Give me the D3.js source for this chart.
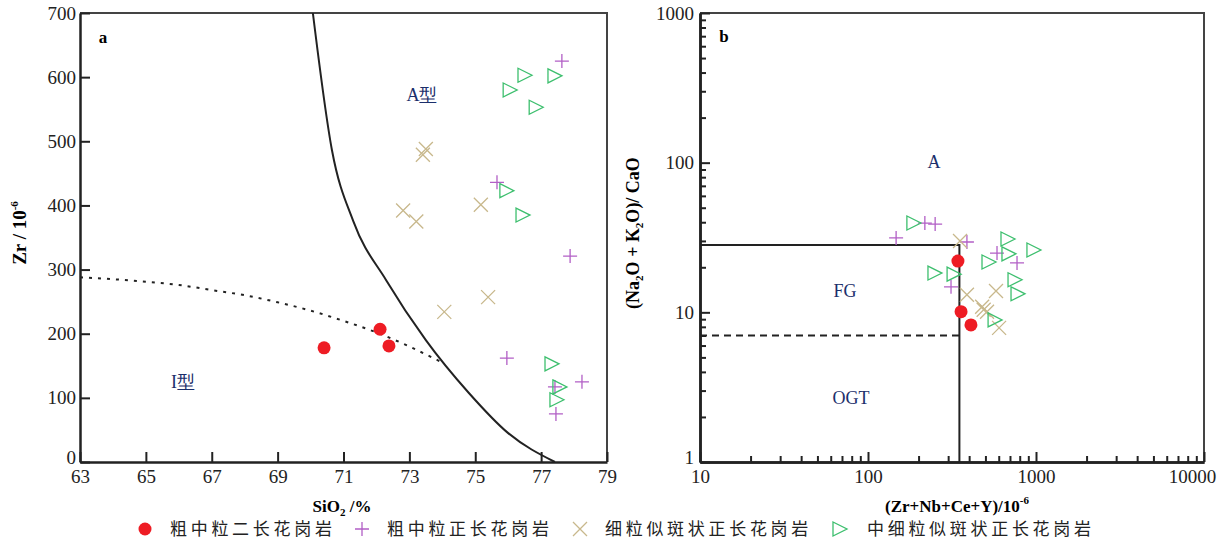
<!DOCTYPE html>
<html>
<head>
<meta charset="utf-8">
<script src="https://cdn.jsdelivr.net/npm/d3@7"></script>
<style>
  body { margin: 0; background: #fff; }
  svg { display: block; font-family: "Liberation Serif", "DejaVu Serif", serif; }
  .cn { font-family: "Noto Sans CJK SC", sans-serif; }
</style>
</head>
<body>
<svg id="chart" width="1228" height="543"></svg>
<script>
// panel a: SiO2 (%) vs Zr (ppm)
const aRed    = [[70.41,178],[72.11,207],[72.38,181]];
const aPurple = [[77.63,625],[75.66,436],[77.88,321],[75.96,162],[78.24,125],[77.42,117],[77.45,75]];
const aTan    = [[73.50,488],[73.41,479],[72.81,392],[73.21,375],[75.17,401],[75.39,257],[74.06,234]];
const aGreen  = [[76.48,603],[77.39,602],[76.03,580],[76.82,553],[75.93,423],[76.42,385],[77.30,153],[77.54,117],[77.45,97]];
const aSolid  = [[70.07,700],[70.65,486],[71.3,375],[72.3,283],[73.5,190],[74.8,108],[76.0,45],[77.42,0]];
const aDotted = [[63,288],[64,285],[65,281],[66,276],[67,268],[68,260],[69,249],[70,236],[71,220],[72,202],[73,180],[74,155]];
const aXTicks = [63,65,67,69,71,73,75,77,79];
const aYTicks = [0,100,200,300,400,500,600,700];

// panel b: (Zr+Nb+Ce+Y) vs (Na2O+K2O)/CaO
const bRed    = [[343,22.0],[358,10.1],[410,8.24]];
const bPurple = [[147,31.4],[218,39.5],[251,38.9],[388,29.5],[586,24.9],[771,21.4],[312,14.8]];
const bTan    = [[353,30.0],[388,13.1],[578,13.9],[478,10.9],[511,10.1],[488,10.4],[603,7.87]];
const bGreen  = [[185,39.5],[672,30.9],[959,26.1],[681,24.6],[518,21.7],[247,18.3],[321,18.0],[740,16.5],[771,13.3],[563,8.9]];
const bSolid  = [[10,28.2],[350,28.2],[350,1]];
const bDashed = [[10,7],[350,7]];
const bXTicks = [10,100,1000,10000];
const bYTicks = [1,10,100,1000];

const legendNames = ["粗中粒二长花岗岩","粗中粒正长花岗岩","细粒似斑状正长花岗岩","中细粒似斑状正长花岗岩"];

const colors = { red: "#ee1c24", purple: "#b25fc6", tan: "#c8b88c", green: "#3dbf6e", navy: "#1c2f6b" };

const svg = d3.select("#chart");

function drawMarker(sel, kind) {
  if (kind === "red") {
    sel.append("circle").attr("r", 6.5).attr("fill", colors.red);
  } else if (kind === "purple") {
    sel.append("path").attr("d", "M-7,0H7M0,-7V7").attr("stroke", colors.purple).attr("stroke-width", 1.3).attr("fill", "none");
  } else if (kind === "tan") {
    sel.append("path").attr("d", "M-7,-7L7,7M-7,7L7,-7").attr("stroke", colors.tan).attr("stroke-width", 1.3).attr("fill", "none");
  } else {
    sel.append("path").attr("d", "M-6,-7L8,0L-6,7Z").attr("stroke", colors.green).attr("stroke-width", 1.3).attr("fill", "none");
  }
}

function plotSeries(g, data, kind, x, y) {
  g.append("g").selectAll("g").data(data).join("g")
    .attr("transform", d => `translate(${x(d[0])},${y(d[1])})`)
    .each(function() { drawMarker(d3.select(this), kind); });
}

function frame(x, y) {
  const [x0, x1] = x.range(), [y0, y1] = y.range();
  svg.append("path")
    .attr("d", `M${x0},${y1}H${x1}V${y0}`)
    .attr("fill", "none").attr("stroke", "#444").attr("stroke-width", 2);
}

function styleAxis(g) {
  g.attr("font-family", "Liberation Serif").attr("font-size", 19);
  g.select(".domain").attr("stroke", "#222").attr("stroke-width", 2.5);
  g.selectAll(".tick line").attr("stroke", "#222").attr("stroke-width", 2);
  g.selectAll(".tick text")
    .attr("font-family", "Liberation Serif")
    .attr("font-size", 19)
    .attr("fill", "#222");
}

// ---------- panel a ----------
const xa = d3.scaleLinear([63, 79], [80, 607]);
const ya = d3.scaleLinear([0, 700], [462, 13]);
frame(xa, ya);

svg.append("g").attr("transform", `translate(0,${ya(0)})`)
  .call(d3.axisBottom(xa).tickValues(aXTicks).tickSize(-10).tickSizeOuter(0).tickPadding(8))
  .call(styleAxis);
svg.append("g").attr("transform", `translate(${xa(63)},0)`)
  .call(d3.axisLeft(ya).tickValues(aYTicks).tickSize(-10).tickSizeOuter(0).tickPadding(4))
  .call(styleAxis)
  .call(g => g.selectAll(".tick text").filter(d => d === 0).attr("dy", "0.1em"));

svg.append("path").attr("d", d3.line().x(d => xa(d[0])).y(d => ya(d[1])).curve(d3.curveMonotoneX)(aSolid))
  .attr("fill", "none").attr("stroke", "#222").attr("stroke-width", 2);
svg.append("path").attr("d", d3.line().x(d => xa(d[0])).y(d => ya(d[1])).curve(d3.curveMonotoneX)(aDotted))
  .attr("fill", "none").attr("stroke", "#222").attr("stroke-width", 2).attr("stroke-dasharray", "3,6");

const ga = svg.append("g");
plotSeries(ga, aPurple, "purple", xa, ya);
plotSeries(ga, aTan, "tan", xa, ya);
plotSeries(ga, aGreen, "green", xa, ya);
plotSeries(ga, aRed, "red", xa, ya);

svg.append("text").attr("x", 103).attr("y", 43).attr("font-weight", "bold").attr("font-size", 17).attr("text-anchor", "middle").text("a");
svg.append("text").attr("x", 422).attr("y", 101).attr("font-size", 18).attr("fill", colors.navy).attr("text-anchor", "middle").text("A型");
svg.append("text").attr("x", 183).attr("y", 388).attr("font-size", 18).attr("fill", colors.navy).attr("text-anchor", "middle").text("I型");

const xla = svg.append("text").attr("x", 342).attr("y", 512).attr("text-anchor", "middle").attr("font-size", 17).attr("font-weight", "bold");
xla.append("tspan").text("SiO");
xla.append("tspan").attr("font-size", 11).attr("dy", 4).text("2");
xla.append("tspan").attr("dy", -4).text(" /%");

const yla = svg.append("text").attr("transform", "translate(26,233) rotate(-90)").attr("text-anchor", "middle").attr("font-size", 19).attr("font-weight", "bold");
yla.append("tspan").text("Zr / 10");
yla.append("tspan").attr("font-size", 11).attr("dy", -8).text("-6");

// ---------- panel b ----------
const xb = d3.scaleLog([10, 10000], [700, 1204]);
const yb = d3.scaleLog([1, 1000], [462, 13]);
frame(xb, yb);

const minorsX = [], minorsY = [];
[10, 100, 1000].forEach(p => { for (let k = 2; k <= 9; k++) minorsX.push(p * k); });
[1, 10, 100].forEach(p => { for (let k = 2; k <= 9; k++) minorsY.push(p * k); });

svg.append("g").attr("transform", `translate(0,${yb(1)})`)
  .call(d3.axisBottom(xb).tickValues(minorsX).tickSize(-6).tickSizeOuter(0).tickFormat(""))
  .call(styleAxis);
svg.append("g").attr("transform", `translate(0,${yb(1)})`)
  .call(d3.axisBottom(xb).tickValues(bXTicks).tickSize(-10).tickSizeOuter(0).tickPadding(8).tickFormat(d3.format("d")))
  .call(styleAxis)
  .call(g => g.selectAll(".tick text").filter(d => d === 10000).attr("dx", -12));
svg.append("g").attr("transform", `translate(${xb(10)},0)`)
  .call(d3.axisLeft(yb).tickValues(minorsY).tickSize(-6).tickSizeOuter(0).tickFormat(""))
  .call(styleAxis);
svg.append("g").attr("transform", `translate(${xb(10)},0)`)
  .call(d3.axisLeft(yb).tickValues(bYTicks).tickSize(-10).tickSizeOuter(0).tickPadding(6).tickFormat(d3.format("d")))
  .call(styleAxis)
  .call(g => g.selectAll(".tick text").filter(d => d === 1).attr("dy", "0.1em"));

const lineB = d3.line().x(d => xb(d[0])).y(d => yb(d[1]));
svg.append("path").attr("d", lineB(bSolid)).attr("fill", "none").attr("stroke", "#222").attr("stroke-width", 2);
svg.append("path").attr("d", lineB(bDashed)).attr("fill", "none").attr("stroke", "#222").attr("stroke-width", 1.8).attr("stroke-dasharray", "7,5");

const gb = svg.append("g");
plotSeries(gb, bPurple, "purple", xb, yb);
plotSeries(gb, bTan, "tan", xb, yb);
plotSeries(gb, bGreen, "green", xb, yb);
plotSeries(gb, bRed, "red", xb, yb);

svg.append("text").attr("x", 724).attr("y", 42).attr("font-weight", "bold").attr("font-size", 17).attr("text-anchor", "middle").text("b");
svg.append("text").attr("x", 934).attr("y", 168).attr("font-size", 18).attr("fill", colors.navy).attr("text-anchor", "middle").text("A");
svg.append("text").attr("x", 845).attr("y", 297).attr("font-size", 18).attr("fill", colors.navy).attr("text-anchor", "middle").text("FG");
svg.append("text").attr("x", 851).attr("y", 404).attr("font-size", 18).attr("fill", colors.navy).attr("text-anchor", "middle").text("OGT");

const xlb = svg.append("text").attr("x", 957).attr("y", 512).attr("text-anchor", "middle").attr("font-size", 17).attr("font-weight", "bold");
xlb.append("tspan").text("(Zr+Nb+Ce+Y)/10");
xlb.append("tspan").attr("font-size", 11).attr("dy", -8).text("-6");

const ylb = svg.append("text").attr("transform", "translate(639,233) rotate(-90)").attr("text-anchor", "middle").attr("font-size", 18).attr("font-weight", "bold");
ylb.append("tspan").text("(Na");
ylb.append("tspan").attr("font-size", 11).attr("dy", 4).text("2");
ylb.append("tspan").attr("dy", -4).text("O + K");
ylb.append("tspan").attr("font-size", 11).attr("dy", 4).text("2");
ylb.append("tspan").attr("dy", -4).text("O)/ CaO");

// ---------- legend ----------
const legendKinds = ["red", "purple", "tan", "green"];
const legendMarkX = [145, 362, 580, 839];
const legendTextX = [170, 387, 605, 867];
const lg = svg.append("g");
legendKinds.forEach((k, i) => {
  const m = lg.append("g").attr("transform", `translate(${legendMarkX[i]},529)`);
  drawMarker(m, k);
  lg.append("text").attr("class", "cn").attr("x", legendTextX[i]).attr("y", 535)
    .attr("font-size", 17).attr("letter-spacing", 3.7).attr("fill", "#222").text(legendNames[i]);
});
</script>
</body>
</html>
